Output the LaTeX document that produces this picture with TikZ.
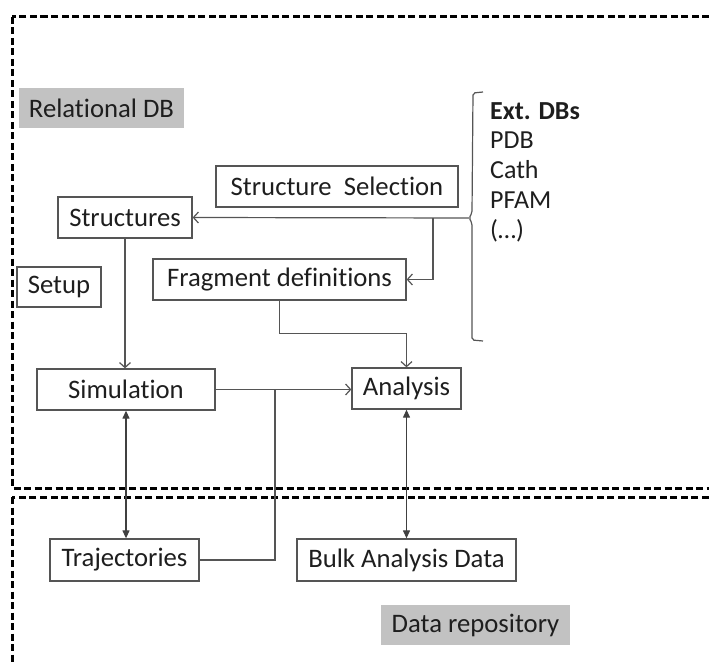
\documentclass[tikz,border=0pt]{standalone}
\usepackage{fontspec}
\setmainfont{Carlito}[Ligatures=NoCommon]
\usetikzlibrary{arrows.meta}
\definecolor{linegray}{RGB}{85,85,85}
\definecolor{labelgray}{RGB}{194,194,194}
\definecolor{textdark}{RGB}{30,30,30}
\tikzset{
  box/.style={draw=linegray, line width=1.3pt, minimum height=41pt, inner sep=0pt,
    text=textdark, font=\fontsize{26.7}{30}\selectfont},
  tag/.style={fill=labelgray, minimum height=40pt, inner sep=0pt,
    text=textdark, font=\fontsize{26.7}{30}\selectfont},
  link/.style={draw=linegray, line width=1.2pt, -{Straight Barb[length=5pt,width=11pt]}},
  both/.style={draw=black!75, line width=1.2pt,
    {Triangle[length=8pt,width=7pt]}-{Triangle[length=8pt,width=7pt]}},
  region/.style={draw=black, line width=3pt, dash pattern=on 7pt off 3.5pt}
}
\begin{document}
\begin{tikzpicture}[x=1pt,y=-1pt]
   \clip (0,0) rectangle (709,663);
   % the two stores
   \draw[region] (12,17) rectangle (740,488);
   \draw[region] (12,497) rectangle (740,700);
   \node[tag, minimum width=165pt] (reldb) at (101.5,108) {Relational DB};
   \node[tag, minimum width=189pt] (repo) at (475.5,625) {Data repository};
   % boxes
   \node[box, minimum width=242pt] (sel) at (337,186.5) {Structure~~Selection};
   \node[box, minimum width=134pt] (str) at (125,217.5) {Structures};
   \node[box, minimum width=84pt, minimum height=40pt] (setup) at (59,287) {Setup};
   \node[box, minimum width=253pt] (frag) at (279.5,279.5) {Fragment definitions};
   \node[box, minimum width=178pt] (sim) at (126,389.5) {Simulation};
   \node[box, minimum width=109pt] (ana) at (406.5,388.5) {Analysis};
   \node[box, minimum width=149pt, minimum height=42pt] (traj) at (124.5,560) {Trajectories};
   \node[box, minimum width=219pt, minimum height=42pt] (bulk) at (406.5,560) {Bulk Analysis Data};
   % external databases
   \draw[linegray, line width=1.2pt, rounded corners=2pt]
      (483,92) -- (473,93) -- (472,213) -- (469,218) -- (472,223) -- (472,340) -- (483,341);
   \node[anchor=base west, align=left, inner sep=0pt, text=textdark,
      font=\fontsize{26}{29.7}\selectfont] (extdb) at (490,238)
      {\textbf{Ext. DBs}\\PDB\\Cath\\PFAM\\(…)};
   % connectors
   \coordinate (brk) at (469,218);
   \coordinate (fork) at (433,218);
   \coordinate (merge) at (275,389.5);
   \draw[link] (brk) -- (str.east);
   \draw[link] (fork) |- (frag.east);
   \draw[link] (frag.south) -- ++(0,33) -| (ana.north);
   \draw[link] (str.south) -- (str.south |- sim.north);
   \draw[link] (sim.east) -- (sim.east -| ana.west);
   \draw[linegray, line width=1.2pt] (traj.east) -| (merge);
   \draw[both] (sim.south) -- (sim.south |- traj.north);
   \draw[both] (ana.south) -- (ana.south |- bulk.north);
\end{tikzpicture}
\end{document}
